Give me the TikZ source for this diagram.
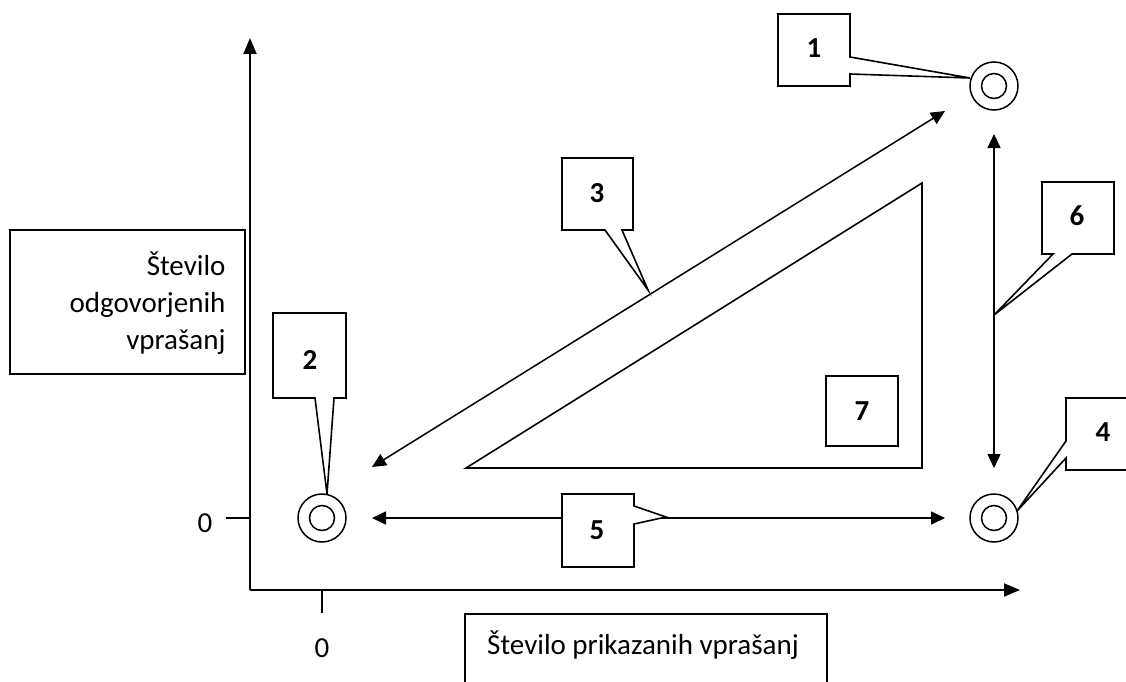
\documentclass[tikz,border=0pt]{standalone}
\usepackage{fontspec}
\setmainfont{Carlito}
\usetikzlibrary{arrows.meta}
\begin{document}
\begin{tikzpicture}[x=1pt,y=-1pt,
  ln/.style={line width=1.6pt},
  axis/.style={line width=1.9pt,-{Triangle[length=16pt,width=13pt]}},
  darrow/.style={line width=1.5pt,{Triangle[length=14pt,width=13pt]}-{Triangle[length=14pt,width=13pt]}},
  callout/.style={line width=1.6pt,fill=white,line join=miter},
  num/.style={font=\fontsize{29}{35}\selectfont\bfseries},
  txt/.style={font=\fontsize{29}{36}\selectfont},
  target/.style={line width=1.5pt}]
\useasboundingbox (0,0) rectangle (1126,682);
% axes
\coordinate (O) at (250,590);
\coordinate (Ytop) at (250,38);
\coordinate (Xend) at (1020,590);
\draw[axis] (O) -- (Ytop);
\draw[axis] (O) -- (Xend);
\coordinate (ty1) at (226,518); \coordinate (ty2) at (250,518);
\draw[line width=1.9pt] (ty1) -- (ty2);
\coordinate (tx1) at (322,590); \coordinate (tx2) at (322,613);
\draw[line width=1.9pt] (tx1) -- (tx2);
\node[txt] (zy) at (205,523) {0};
\node[txt] (zx) at (322,648) {0};
% axis labels
\draw[ln] (10,230) rectangle (245,374);
\node[txt,align=right,anchor=east] (ylab) at (229,303) {Število\\[1pt]odgovorjenih\\[1pt]vprašanj};
\draw[ln] (465,700) -- (465,614) -- (827,614) -- (827,700);
\node[txt] (xlab) at (643,645) {Število prikazanih vprašanj};
% targets
\foreach \n/\x/\y in {t1/994/86, t2/322/518, t4/994/518}{
  \node[circle,draw,line width=1.5pt,minimum size=48pt,inner sep=0pt] (\n) at (\x,\y) {};
  \draw[target] (\x,\y) circle (12.5);
}
% triangle
\coordinate (A) at (466,468); \coordinate (B) at (922,183); \coordinate (C) at (922,468);
\draw[ln,line join=miter] (A) -- (B) -- (C) -- cycle;
% box 7
\node[draw,line width=1.6pt,minimum width=72pt,minimum height=70pt,num] (b7) at (862,411) {7};
% arrows
\coordinate (a3s) at (372,467); \coordinate (a3e) at (945,111);
\draw[darrow] (a3s) -- (a3e);
\coordinate (a5s) at (372,518); \coordinate (a5e) at (945,518);
\draw[darrow] (a5s) -- (a5e);
\coordinate (a6s) at (994,134); \coordinate (a6e) at (994,468);
\draw[darrow] (a6s) -- (a6e);
% callouts
\draw[callout] (778,14) -- (850,14) -- (850,57) -- (970,78) -- (850,74) -- (850,86) -- (778,86) -- cycle;
\node[num] (c1) at (814,48) {1};
\draw[callout] (273,313) -- (346,313) -- (346,398) -- (334,398) -- (327,494) -- (315,398) -- (273,398) -- cycle;
\node[num] (c2) at (310,360) {2};
\draw[callout] (562,158) -- (633,158) -- (633,230) -- (622,230) -- (648,290) -- (605,230) -- (562,230) -- cycle;
\node[num] (c3) at (597,193) {3};
\draw[callout] (1066,398) -- (1132,398) -- (1132,470) -- (1066,470) -- (1066,458) -- (1017,511) -- (1066,441) -- cycle;
\node[num] (c4) at (1103,432) {4};
\draw[callout] (562,494) -- (634,494) -- (634,506) -- (666,517) -- (634,524) -- (634,567) -- (562,567) -- cycle;
\node[num] (c5) at (597,530) {5};
\draw[callout] (1042,182) -- (1114,182) -- (1114,254) -- (1072,254) -- (994,315) -- (1053,254) -- (1042,254) -- cycle;
\node[num] (c6) at (1077,216) {6};
\end{tikzpicture}
\end{document}
